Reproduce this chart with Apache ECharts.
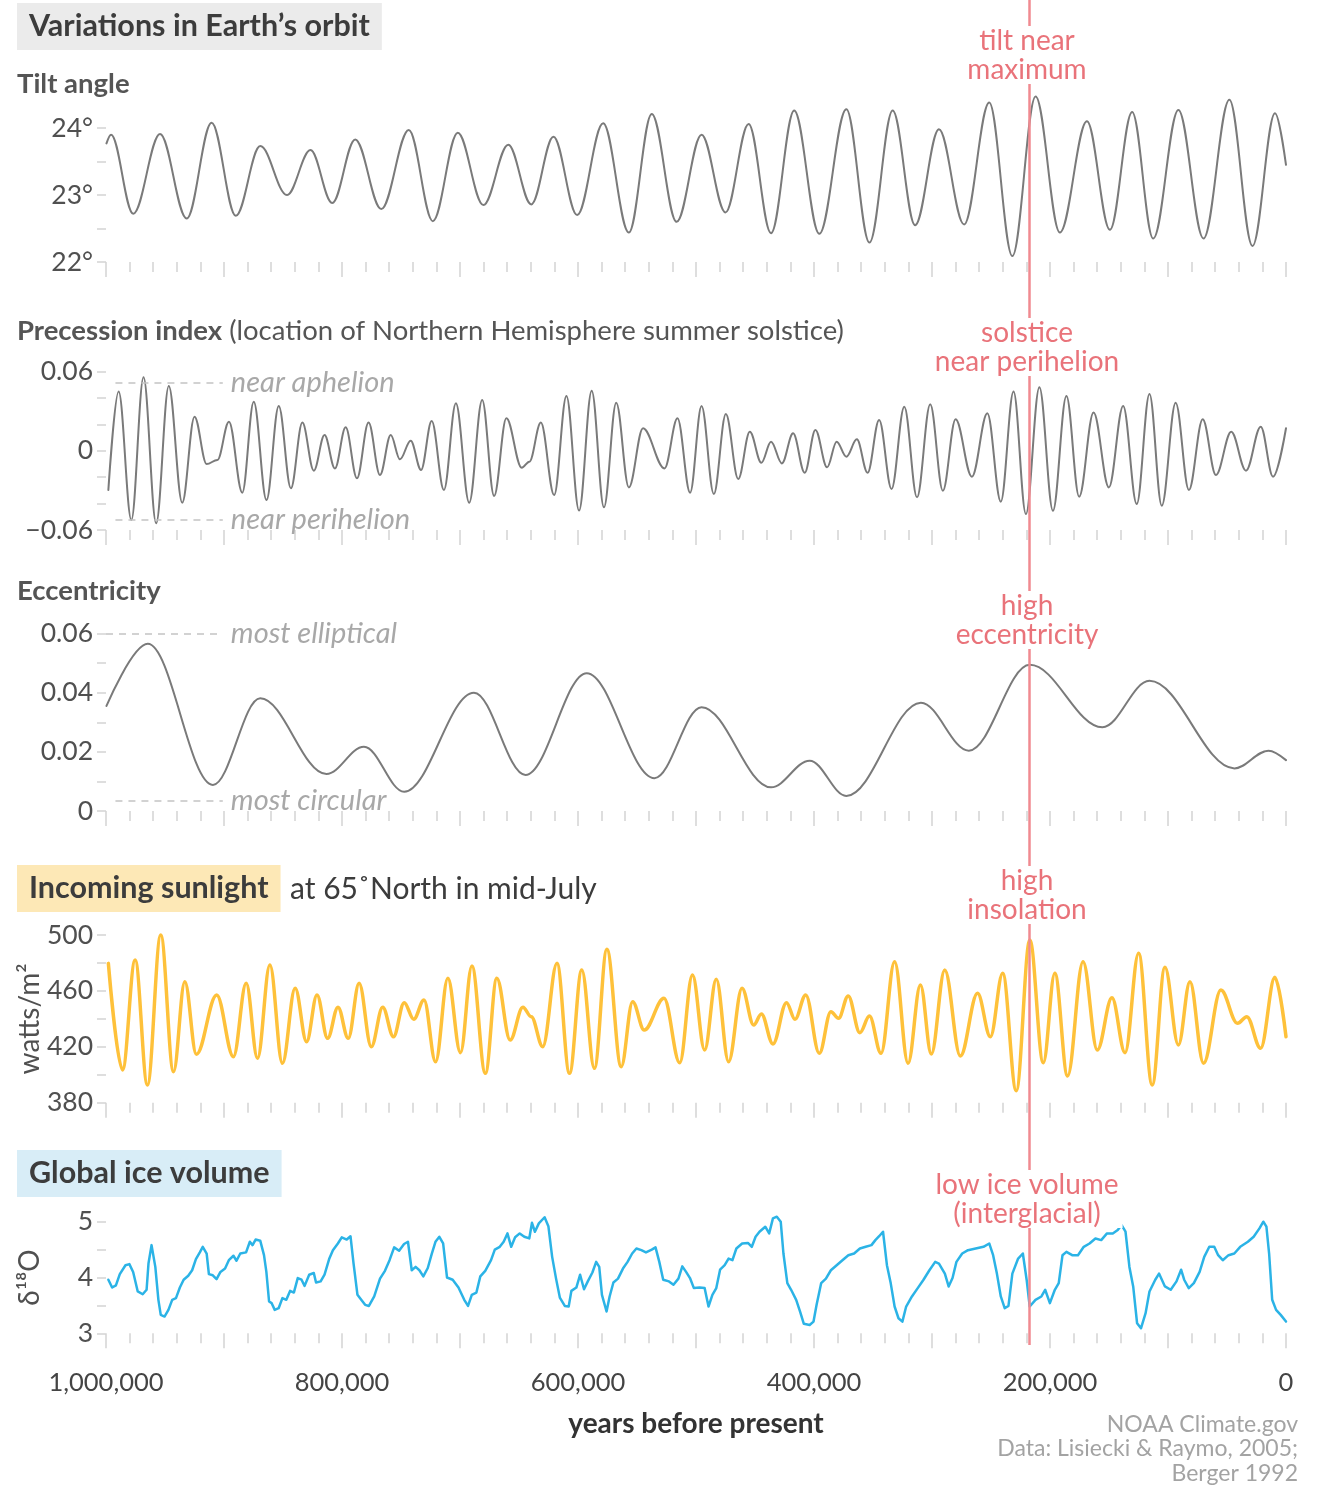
<!DOCTYPE html>
<html>
<head>
<meta charset="utf-8">
<title>Variations in Earth's orbit</title>
<script src="https://cdn.jsdelivr.net/npm/echarts@6/dist/echarts.min.js"></script>
<style>
  html, body { margin: 0; padding: 0; background: #fff; }
  #chart { width: 1325px; height: 1503px; }
</style>
</head>
<body>
<div id="chart"></div>
<script>
// ages are in thousands of years before present (ka)
const tilt = [
  [999.6,23.77],[995.7,23.90],[976.9,22.72],[954.2,23.91],[931.6,22.65],[910.5,24.08],[890.0,22.69],[869.3,23.73],
  [846.6,23.00],[826.7,23.67],[808.3,22.88],[788.8,23.83],[766.7,22.79],[743.4,23.97],[723.0,22.61],[701.9,23.93],
  [680.2,22.85],[659.1,23.75],[639.6,22.86],[620.8,23.87],[600.7,22.70],[578.7,24.07],[556.9,22.44],[537.5,24.21],
  [516.4,22.60],[495.3,23.90],[475.0,22.74],[455.4,24.06],[436.4,22.43],[416.8,24.26],[395.5,22.42],[372.6,24.28],
  [353.0,22.29],[333.3,24.26],[314.3,22.55],[294.1,23.98],[272.8,22.56],[251.5,24.38],[231.9,22.09],[212.2,24.47],
  [191.6,22.44],[168.7,24.10],[149.2,22.48],[130.4,24.24],[112.5,22.35],[91.2,24.27],[69.9,22.35],[48.0,24.42],
  [28.4,22.24],[9.3,24.22],[0,23.45]
];

const precession = [
  [998.0,-0.0297],[989.3,0.0449],[978.5,-0.0524],[968.2,0.0557],[957.5,-0.0549],[946.8,0.0492],[935.4,-0.0393],
  [925.0,0.0259],[914.7,-0.0100],[905.6,-0.0069],[895.8,0.0221],[884.5,-0.0317],[874.8,0.0373],[864.0,-0.0373],
  [853.6,0.0340],[843.3,-0.0284],[833.6,0.0214],[823.9,-0.0150],[814.8,0.0120],[806.0,-0.0133],[796.9,0.0178],
  [787.3,-0.0208],[777.5,0.0214],[767.8,-0.0183],[758.7,0.0120],[750.9,-0.0064],[741.8,0.0077],[733.0,-0.0145],
  [724.0,0.0226],[713.6,-0.0297],[703.5,0.0360],[692.2,-0.0393],[681.2,0.0386],[671.1,-0.0342],[660.7,0.0247],
  [647.7,-0.0128],[641.2,-0.0082],[631.5,0.0214],[620.2,-0.0335],[609.8,0.0416],[599.1,-0.0453],[588.4,0.0456],
  [578.0,-0.0428],[567.6,0.0365],[556.9,-0.0277],[544.9,0.0171],[526.7,-0.0133],[515.7,0.0247],[505.0,-0.0317],
  [495.3,0.0340],[484.9,-0.0327],[474.7,0.0279],[464.2,-0.0213],[454.4,0.0145],[444.6,-0.0090],[436.4,0.0069],
  [427.2,-0.0095],[417.7,0.0133],[407.9,-0.0166],[398.8,0.0158],[388.9,-0.0125],[380.8,0.0069],[372.6,-0.0044],
  [363.7,0.0087],[354.6,-0.0166],[344.8,0.0234],[334.3,-0.0289],[323.5,0.0335],[312.7,-0.0352],[301.5,0.0353],
  [290.8,-0.0302],[280.0,0.0239],[266.2,-0.0196],[253.1,0.0285],[241.7,-0.0385],[230.9,0.0449],[220.4,-0.0479],
  [209.0,0.0482],[197.5,-0.0454],[186.1,0.0416],[175.3,-0.0347],[163.1,0.0290],[150.1,-0.0277],[138.0,0.0340],
  [126.5,-0.0403],[115.7,0.0431],[105.3,-0.0416],[93.5,0.0365],[82.3,-0.0297],[70.6,0.0239],[59.4,-0.0183],
  [46.4,0.0145],[33.9,-0.0150],[21.4,0.0183],[11.0,-0.0196],[0,0.0171]
];

const eccentricity = [
  [999.6,0.0355],[964.6,0.0565],[909.4,0.0088],[869.3,0.0381],[813.2,0.0125],[781.4,0.0217],[747.3,0.0065],
  [688.2,0.0400],[644.5,0.0122],[592.6,0.0466],[535.2,0.0111],[495.3,0.0351],[436.4,0.0080],[403.7,0.0170],
  [372.6,0.0051],[309.4,0.0366],[268.8,0.0204],[217.1,0.0494],[155.6,0.0283],[115.7,0.0440],[43.7,0.0144],
  [14.9,0.0204],[0,0.0172]
];

const insolation = [
  [998.0,479.7],[986.0,403.4],[975.3,482.1],[964.9,392.7],[953.6,500.0],[942.8,402.2],[933.2,466.6],[923.4,414.6],
  [906.2,457.1],[892.0,412.9],[881.2,465.4],[871.6,411.8],[861.1,478.5],[850.5,408.2],[839.7,461.9],[830.0,423.6],
  [821.2,457.1],[812.2,426.1],[803.4,448.3],[794.7,426.1],[785.5,465.4],[775.2,420.1],[765.5,448.3],[756.4,427.2],
  [747.3,451.6],[739.2,439.7],[730.5,453.5],[720.7,409.3],[710.3,469.0],[699.6,415.8],[689.9,477.8],[678.5,401.0],
  [668.8,469.0],[657.5,424.9],[646.7,448.3],[639.6,441.5],[629.9,420.1],[617.8,479.7],[607.2,401.0],[596.8,475.0],
  [586.1,404.6],[575.5,489.8],[563.4,405.8],[553.7,452.3],[543.9,432.0],[527.1,454.7],[513.8,408.6],[503.0,471.4],
  [492.7,417.7],[482.8,468.3],[472.4,409.3],[461.0,461.9],[451.1,435.6],[444.6,443.5],[434.8,422.0],[423.3,451.6],
  [416.1,439.7],[407.0,457.1],[395.5,415.3],[385.7,445.1],[379.2,440.4],[371.0,456.4],[361.1,430.1],[353.0,442.0],
  [343.2,415.3],[331.7,480.9],[320.3,408.2],[309.8,464.2],[300.6,414.8],[289.2,475.0],[276.0,413.4],[261.4,458.3],
  [250.5,427.2],[240.1,472.6],[228.6,388.6],[217.1,496.4],[205.7,408.6],[195.9,472.6],[185.1,399.1],[172.0,480.9],
  [159.9,417.7],[147.5,455.1],[136.4,415.8],[124.9,486.9],[113.4,392.7],[102.6,476.9],[91.2,421.3],[81.4,466.6],
  [69.9,408.2],[55.2,460.6],[41.1,436.8],[33.2,441.5],[21.5,418.9],[9.4,469.7],[0,427.2]
];

const iceVolume = [
  [998.0,3.96],[994.8,3.82],[991.6,3.86],[988.3,4.06],[983.5,4.22],[980.2,4.24],[977.0,4.10],[973.1,3.75],
  [968.9,3.70],[965.6,3.78],[964.0,4.25],[961.4,4.58],[958.2,4.19],[955.6,3.60],[953.6,3.33],[950.4,3.30],
  [947.1,3.42],[943.9,3.60],[940.7,3.63],[937.4,3.82],[934.2,3.96],[930.3,4.03],[927.0,4.13],[923.8,4.33],
  [920.5,4.45],[918.0,4.55],[914.7,4.43],[912.8,4.06],[909.5,4.04],[906.3,3.97],[903.0,4.10],[899.1,4.16],
  [895.9,4.31],[892.0,4.39],[889.4,4.30],[886.2,4.43],[881.3,4.45],[878.1,4.64],[875.8,4.58],[873.2,4.68],
  [869.3,4.66],[866.1,4.40],[864.1,4.10],[861.8,3.57],[859.6,3.54],[857.0,3.42],[853.7,3.45],[850.5,3.63],
  [847.2,3.60],[844.0,3.76],[840.8,3.73],[837.5,3.99],[834.3,3.96],[831.7,3.85],[827.8,4.05],[823.9,4.08],
  [822.0,3.91],[818.1,3.93],[814.8,4.05],[810.9,4.33],[807.7,4.49],[803.5,4.61],[800.2,4.72],[796.0,4.68],
  [792.8,4.74],[790.2,4.25],[786.9,3.69],[783.7,3.60],[780.4,3.51],[777.2,3.49],[772.7,3.66],[767.8,3.98],
  [763.6,4.12],[759.7,4.31],[755.8,4.54],[751.6,4.48],[747.4,4.60],[744.1,4.64],[740.9,4.13],[737.6,4.19],
  [734.4,4.13],[731.1,4.02],[727.3,4.17],[724.0,4.42],[720.8,4.64],[717.5,4.73],[714.3,4.61],[711.0,4.00],
  [706.2,3.96],[701.3,3.82],[696.4,3.60],[693.2,3.49],[690.0,3.69],[686.1,3.73],[682.8,4.02],[678.6,4.12],
  [673.7,4.31],[670.5,4.50],[666.3,4.55],[663.0,4.64],[659.8,4.79],[656.6,4.55],[653.3,4.72],[649.4,4.79],
  [645.5,4.73],[641.3,4.70],[639.0,4.98],[636.5,4.82],[633.2,4.97],[628.3,5.08],[625.1,4.92],[621.9,4.37],
  [618.6,3.98],[615.4,3.64],[611.2,3.49],[607.9,3.48],[605.6,3.76],[601.4,3.82],[598.2,4.05],[594.9,3.79],
  [591.7,3.93],[587.8,4.09],[584.6,4.28],[582.0,4.19],[579.7,3.69],[575.8,3.39],[573.2,3.66],[570.0,3.91],
  [566.1,3.98],[561.9,4.16],[558.0,4.28],[554.1,4.43],[550.5,4.52],[546.3,4.49],[542.4,4.45],[537.5,4.50],
  [534.3,4.54],[531.1,4.28],[527.8,3.96],[522.9,3.93],[519.1,3.87],[514.9,3.98],[511.6,4.20],[508.4,4.10],
  [505.1,3.99],[501.8,3.81],[496.9,3.82],[492.7,3.81],[489.4,3.48],[486.1,3.69],[482.8,3.81],[479.6,4.14],
  [475.7,4.22],[472.4,4.34],[469.1,4.31],[465.8,4.52],[460.9,4.61],[456.0,4.62],[452.7,4.55],[449.5,4.73],
  [446.2,4.82],[441.3,4.91],[438.0,4.79],[434.8,5.06],[431.5,5.09],[428.2,5.00],[425.9,4.43],[422.6,3.90],
  [419.4,3.78],[415.1,3.60],[411.8,3.39],[408.6,3.17],[403.7,3.15],[400.4,3.21],[397.8,3.51],[393.9,3.90],
  [389.9,3.98],[385.7,4.13],[380.8,4.22],[375.9,4.31],[370.9,4.40],[366.0,4.43],[361.1,4.52],[356.2,4.55],
  [351.3,4.58],[348.0,4.67],[344.8,4.74],[341.5,4.82],[338.2,4.22],[335.0,3.90],[331.7,3.48],[328.4,3.27],
  [325.1,3.21],[321.9,3.48],[317.0,3.66],[312.1,3.81],[307.2,3.96],[302.2,4.13],[297.3,4.28],[294.1,4.25],
  [289.1,4.07],[285.9,3.84],[282.6,3.99],[279.3,4.28],[274.4,4.43],[269.5,4.49],[263.0,4.52],[256.4,4.55],
  [251.5,4.61],[248.2,4.40],[245.0,4.07],[241.7,3.66],[238.4,3.45],[235.2,3.49],[231.9,4.07],[227.0,4.34],
  [223.0,4.43],[219.8,3.96],[217.2,3.48],[212.3,3.60],[207.3,3.66],[204.1,3.78],[200.1,3.54],[195.9,3.78],
  [192.6,3.90],[189.4,4.40],[186.1,4.46],[181.2,4.40],[176.3,4.40],[171.4,4.55],[166.5,4.61],[161.5,4.70],
  [156.6,4.67],[151.7,4.79],[146.8,4.79],[142.6,4.85],[139.3,4.94],[136.0,4.82],[132.7,4.19],[129.5,3.84],
  [126.2,3.18],[122.9,3.09],[119.0,3.36],[115.7,3.75],[110.8,3.96],[107.6,4.07],[102.6,3.84],[97.7,3.78],
  [92.8,3.93],[88.9,4.14],[86.3,3.96],[82.4,3.81],[78.1,3.90],[73.2,4.10],[69.3,4.37],[65.0,4.55],
  [60.8,4.55],[57.5,4.40],[53.6,4.31],[48.7,4.40],[43.8,4.43],[38.8,4.55],[32.3,4.64],[27.4,4.73],
  [22.5,4.88],[19.2,5.00],[16.6,4.91],[14.3,4.43],[11.7,3.60],[8.4,3.42],[4.5,3.33],[0,3.21]
];

// tick labels
const xLabelKa = [1000, 800, 600, 400, 200, 0];
const tiltLabels = [22, 23, 24];
const precessionLabels = [-0.06, 0, 0.06];
const eccLabels = [0, 0.02, 0.04, 0.06];
const insolationLabels = [380, 420, 460, 500];
const iceLabels = [3, 4, 5];

// highlighted moment (~218 ka) and reference levels
const markerAge = 218;
const aphelionLevel = 0.052;
const perihelionLevel = -0.052;
const ellipticalLevel = 0.06;
const circularLevel = 0.0034;

const FONT = 'Lato, "Noto Sans", sans-serif';
const TICK = '#d4d4d4';
const LABEL = '#505050';
const RED = '#e9737a';

const chart = echarts.init(document.getElementById('chart'));

const fmtComma = n => n.toString().replace(/\B(?=(\d{3})+(?!\d))/g, ',');
const near = (list, v) => list.some(l => Math.abs(l - v) < 1e-9);

const panels = [
  { data: tilt, top: 128, height: 134, min: 22, max: 24, step: 0.5,
    fmt: v => near(tiltLabels, v) ? Math.round(v) + '°' : '', color: '#7a7a7a', width: 2 },
  { data: precession, top: 371.7, height: 158.3, min: -0.06, max: 0.06, step: 0.02,
    fmt: v => !near(precessionLabels, v) ? '' : Math.abs(v) < 1e-9 ? '0' : (v < 0 ? '\u2212' : '') + Math.abs(v).toFixed(2),
    color: '#7a7a7a', width: 2 },
  { data: eccentricity, top: 633.5, height: 177.5, min: 0, max: 0.06, step: 0.01,
    fmt: v => !near(eccLabels, v) ? '' : Math.abs(v) < 1e-9 ? '0' : v.toFixed(2), color: '#7a7a7a', width: 2 },
  { data: insolation, top: 935, height: 167.7, min: 380, max: 500, step: 20,
    fmt: v => near(insolationLabels, v) ? String(v) : '', color: '#fec13a', width: 3.5,
    name: 'watts/m²' },
  { data: iceVolume, top: 1221.7, height: 111.6, min: 3, max: 5, step: 0.5, raw: true,
    fmt: v => near(iceLabels, v) ? String(v) : '', color: '#2bb3e6', width: 2.5,
    name: 'δ¹⁸O' }
];

const grid = [], xAxis = [], yAxis = [], series = [];

panels.forEach((p, i) => {
  const last = i === panels.length - 1;
  grid.push({ left: 106, right: 39, top: p.top, height: p.height });
  xAxis.push({
    gridIndex: i, type: 'value', min: 0, max: 1000, interval: 100, inverse: true, position: 'bottom',
    axisLine: { show: false, onZero: false },
    splitLine: { show: false },
    axisTick: { show: true, length: 15, lineStyle: { color: TICK, width: 1.5 } },
    minorTick: { show: true, splitNumber: 5, length: 10, lineStyle: { color: TICK, width: 1.5 } },
    minorSplitLine: { show: false },
    axisLabel: {
      show: last, margin: 36, fontSize: 25.5, color: '#444', fontFamily: FONT,
      formatter: v => xLabelKa.includes(Math.round(v)) ? fmtComma(Math.round(v) * 1000) : ''
    },
    name: last ? 'years before present' : '',
    nameLocation: 'middle', nameGap: 77, nameMoveOverlap: false,
    nameTextStyle: { fontSize: 28, fontWeight: 'bold', color: '#333', fontFamily: FONT }
  });
  yAxis.push({
    gridIndex: i, type: 'value', min: p.min, max: p.max, interval: p.step, position: 'left',
    axisLine: { show: false, onZero: false },
    splitLine: { show: false },
    axisTick: { show: true, length: 9, lineStyle: { color: TICK, width: 1.5 } },
    axisLabel: { margin: 13, fontSize: 26.5, color: LABEL, fontFamily: FONT, formatter: p.fmt },
    name: p.name || '', nameLocation: 'middle', nameGap: 62, nameRotate: 90, nameMoveOverlap: false,
    nameTextStyle: { fontSize: 28, color: LABEL, fontFamily: FONT }
  });
  series.push({
    type: 'line', xAxisIndex: i, yAxisIndex: i, clip: false,
    data: p.data,
    showSymbol: false, symbol: 'none',
    smooth: p.raw ? false : 0.36,
    smoothMonotone: p.raw ? undefined : 'x',
    lineStyle: { color: p.color, width: p.width, cap: 'round', join: 'round' },
    silent: true
  });
});

// dashed reference levels with italic notes
const refLine = (from, to, level, text) => [
  { coord: [from, level], name: text },
  { coord: [to, level] }
];
const refStyle = {
  symbol: 'none', silent: true, animation: false,
  lineStyle: { type: [7, 6], color: '#c4c4c4', width: 1.5 },
  label: { show: true, position: 'end', distance: 8, formatter: '{b}',
    fontStyle: 'italic', fontSize: 29, color: '#a8a8a8', fontFamily: FONT }
};
series[1].markLine = Object.assign({}, refStyle, {
  data: [refLine(992, 901, aphelionLevel, 'near aphelion'), refLine(992, 901, perihelionLevel, 'near perihelion')]
});
series[2].markLine = Object.assign({}, refStyle, {
  data: [refLine(1000, 901, ellipticalLevel, 'most elliptical'), refLine(992, 901, circularLevel, 'most circular')]
});

// overlay grid for the red marker spanning all panels
grid.push({ left: 106, right: 39, top: 0, height: 1345 });
xAxis.push({ gridIndex: 5, type: 'value', min: 0, max: 1000, inverse: true, show: false });
yAxis.push({ gridIndex: 5, type: 'value', min: 0, max: 1, show: false });
series.push({
  type: 'line', xAxisIndex: 5, yAxisIndex: 5, data: [[markerAge, 0]], symbol: 'none', silent: true,
  markLine: { symbol: 'none', silent: true, label: { show: false },
    lineStyle: { color: '#f08a90', width: 2.5, type: 'solid' }, data: [{ xAxis: markerAge }] }
});

const txt = (x, y, text, o) => ({
  type: 'text', x, y, z: 100, silent: true,
  style: Object.assign({ text, fontFamily: FONT, fontSize: 27.5, fill: '#555', verticalAlign: 'middle' }, o || {})
});
const note = (y, text) => txt(1027, y, text, {
  fill: RED, align: 'center', verticalAlign: 'top', fontSize: 28, lineHeight: 29,
  backgroundColor: '#fff', padding: [0, 4]
});
const box = (y, text, bg) => txt(17, y, text, {
  verticalAlign: 'top', fontWeight: 'bold', fontSize: 30.5, fill: '#3c3c3c',
  backgroundColor: bg, padding: [8, 12, 8, 12]
});

const graphics = [
  box(3, 'Variations in Earth’s orbit', '#ebebeb'),
  txt(17, 84, 'Tilt angle', { fontWeight: 'bold' }),
  txt(17, 331, '{b|Precession index} {n|(location of Northern Hemisphere summer solstice)}', {
    rich: { b: { fontWeight: 'bold', fontSize: 27.5, fontFamily: FONT, fill: '#555' },
            n: { fontSize: 27.5, fontFamily: FONT, fill: '#555' } } }),
  txt(17, 591, 'Eccentricity', { fontWeight: 'bold' }),
  box(865, 'Incoming sunlight', '#fde8b6'),
  txt(290, 889, 'at 65˚North in mid-July', { fontSize: 30, fill: '#3c3c3c' }),
  box(1150, 'Global ice volume', '#d8edf7'),
  note(26, 'tilt near\nmaximum'),
  note(318, 'solstice\nnear perihelion'),
  note(591, 'high\neccentricity'),
  note(866, 'high\ninsolation'),
  note(1170, 'low ice volume\n(interglacial)'),
  txt(1298, 1425, 'NOAA Climate.gov', { align: 'right', fontSize: 23, fill: '#a3a3a3' }),
  txt(1298, 1449, 'Data: Lisiecki & Raymo, 2005;', { align: 'right', fontSize: 23, fill: '#a3a3a3' }),
  txt(1298, 1474, 'Berger 1992', { align: 'right', fontSize: 23, fill: '#a3a3a3' })
];

chart.setOption({
  animation: false,
  backgroundColor: '#fff',
  grid, xAxis, yAxis, series,
  graphic: { elements: graphics }
});
</script>
</body>
</html>
